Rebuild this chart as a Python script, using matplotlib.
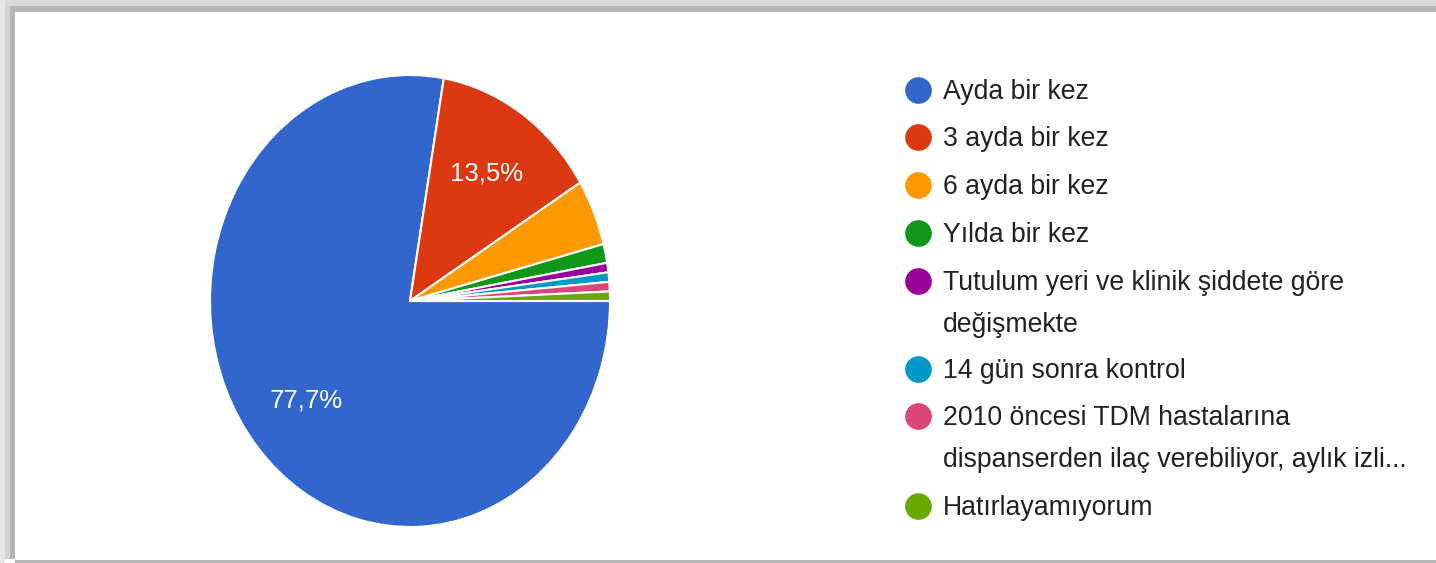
import numpy as np
import matplotlib
matplotlib.use('Agg')
import matplotlib.pyplot as plt
from matplotlib.patches import Rectangle

plt.rcParams['font.family'] = ['Liberation Sans', 'DejaVu Sans']

# survey answers (counts, n = 148)
labels = ['Ayda bir kez', '3 ayda bir kez', '6 ayda bir kez', 'Yılda bir kez',
          'Tutulum yeri ve klinik şiddete göre\ndeğişmekte',
          '14 gün sonra kontrol',
          '2010 öncesi TDM hastalarına\ndispanserden ilaç verebiliyor, aylık izli...',
          'Hatırlayamıyorum']
counts = [115, 20, 7, 2, 1, 1, 1, 1]
colors = ['#3366cc', '#dc3912', '#ff9900', '#109618',
          '#990099', '#0099c6', '#dd4477', '#66aa00']

W, H = 1436, 563
fig = plt.figure(figsize=(W / 100, H / 100), dpi=100)

# background axes in pixel coords (frame + legend)
bg = fig.add_axes([0, 0, 1, 1])
bg.set_xlim(0, W)
bg.set_ylim(H, 0)
bg.axis('off')

# shadow frame like the screenshot
bg.add_patch(Rectangle((0, 0), W, 6, color='#d8d8d8', lw=0))
bg.add_patch(Rectangle((8, 6), W - 8, 6, color='#b6b6b6', lw=0))
bg.add_patch(Rectangle((0, 0), 5, H, color='#e6e6e6', lw=0))
bg.add_patch(Rectangle((5, 6), 5, H - 10, color='#d2d2d2', lw=0))
bg.add_patch(Rectangle((10, 8), 5, H - 12, color='#b6b6b6', lw=0))
bg.add_patch(Rectangle((15, H - 3), W - 15, 3, color='#b6b6b6', lw=0))

# pie (screenshot is stretched vertically, so aspect is left free)
ax = fig.add_axes([210 / W, (H - 527) / H, 400 / W, 452 / H])


def pct_fmt(p):
    return f'{p:.1f}'.replace('.', ',') + '%' if p >= 10 else ''


wedges, texts, autotexts = ax.pie(counts, colors=colors, startangle=0, counterclock=False,
                                  autopct=pct_fmt, pctdistance=0.68,
                                  wedgeprops=dict(edgecolor='white', linewidth=1.5),
                                  textprops=dict(color='white', fontsize=18.5))
ax.set_aspect('auto')
ax.set_xlim(-1, 1)
ax.set_ylim(-1, 1)

# legend, drawn by hand to get the google-forms look
row_y = [90, 137, 185, 233, 281, 369, 416, 506]
line_gap = 42
for lab, col, y in zip(labels, colors, row_y):
    bg.scatter([918], [y], s=330, color=col, zorder=3)
    for k, part in enumerate(lab.split('\n')):
        bg.text(943, y + 2 + k * line_gap, part, fontsize=19.2, color='#222222',
                va='center', transform=bg.transData)

fig.savefig('out.png', dpi=100)
